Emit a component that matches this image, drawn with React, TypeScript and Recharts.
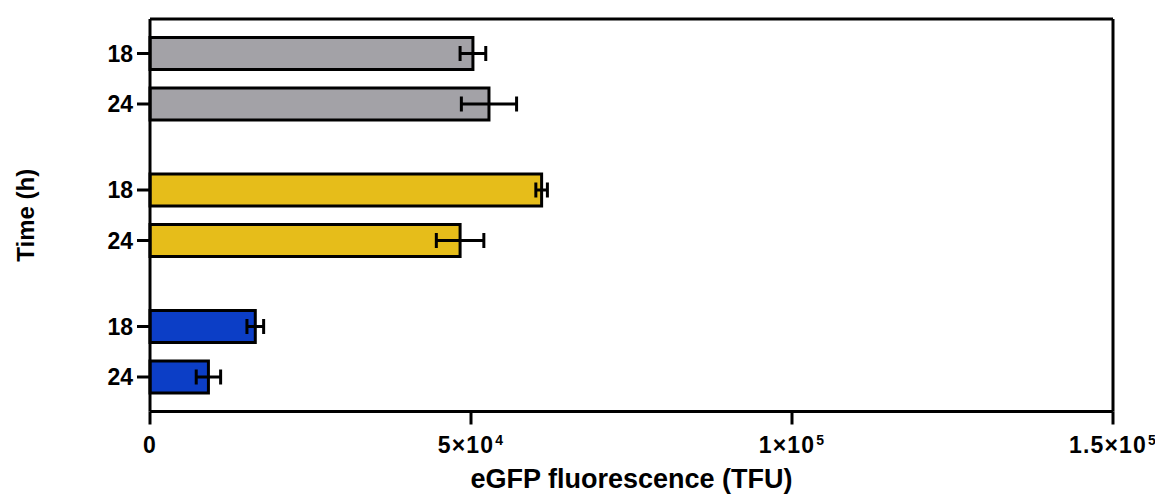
import React from 'react';
import { BarChart, Bar, XAxis, YAxis, ErrorBar, Cell, Label } from 'recharts';

const groups = ['G1', 'G2', 'G3'];
const timeLabels = ['18', '24'];
const mean18h = [50300, 61000, 16400];
const mean24h = [52800, 48300, 9100];
const sd18h = [2000, 900, 1300];
const sd24h = [4300, 3700, 1900];
const groupColors = ['#a3a2a7', '#e6bd1a', '#0c3ec6'];
const xTicks = [0, 50000, 100000, 150000];
const xTickMantissa = ['0', '5×10', '1×10', '1.5×10'];
const xTickExponent = ['', '4', '5', '5'];

const data = groups.map((g, i) => ({
  group: g,
  t18: mean18h[i],
  t24: mean24h[i],
  e18: sd18h[i],
  e24: sd24h[i],
}));

const FONT = '"Liberation Sans", Arial, sans-serif';
const BAR_SIZE = 32;
const BAR_GAP = 18.5;

const YTick = (props: any) => {
  const { x, y } = props;
  const half = (BAR_SIZE + BAR_GAP) / 2;
  return (
    <g>
      {timeLabels.map((t, k) => {
        const ty = y + (k === 0 ? -half : half);
        return (
          <g key={t}>
            <line x1={x - 13} x2={x} y1={ty} y2={ty} stroke="#000" strokeWidth={3} />
            <text
              x={x - 17}
              y={ty}
              dy="0.355em"
              textAnchor="end"
              fontFamily={FONT}
              fontWeight="bold"
              fontSize={23}
              fill="#000"
            >
              {t}
            </text>
          </g>
        );
      })}
    </g>
  );
};

const XTick = (props: any) => {
  const { x, y, payload } = props;
  const idx = xTicks.indexOf(payload.value);
  return (
    <text
      x={x}
      y={y}
      dy="0.71em"
      textAnchor="middle"
      fontFamily={FONT}
      fontWeight="bold"
      fontSize={23}
      letterSpacing={1.2}
      fill="#000"
    >
      <tspan>{xTickMantissa[idx]}</tspan>
      {xTickExponent[idx] ? (
        <tspan fontSize={14} dx={1} dy={-8}>
          {xTickExponent[idx]}
        </tspan>
      ) : null}
    </text>
  );
};

const XTitle = (props: any) => {
  const { viewBox } = props;
  const cx = viewBox.x + viewBox.width / 2;
  return (
    <text
      x={cx}
      y={viewBox.y + 76.5}
      textAnchor="middle"
      fontFamily={FONT}
      fontWeight="bold"
      fontSize={27}
      fill="#000"
    >
      eGFP fluorescence (TFU)
    </text>
  );
};

const YTitle = (props: any) => {
  const { viewBox } = props;
  const cy = viewBox.y + viewBox.height / 2;
  const cx = 17;
  return (
    <text
      x={cx}
      y={cy}
      dy="0.355em"
      transform={`rotate(-90, ${cx}, ${cy})`}
      textAnchor="middle"
      fontFamily={FONT}
      fontWeight="bold"
      fontSize={24}
      fill="#000"
    >
      Time (h)
    </text>
  );
};

export default function App() {
  return (
    <div style={{ width: 1155, height: 490 }}>
      <BarChart
        width={1155}
        height={490}
        data={data}
        layout="vertical"
        margin={{ top: 10, right: 49, bottom: 0, left: 0 }}
        barGap={BAR_GAP}
      >
        <XAxis
          type="number"
          domain={[0, 150000]}
          ticks={xTicks}
          interval={0}
          height={86.5}
          tickSize={13}
          tickMargin={12}
          axisLine={{ stroke: '#000', strokeWidth: 3 }}
          tickLine={{ stroke: '#000', strokeWidth: 3 }}
          tick={<XTick />}
        >
          <Label content={<XTitle />} />
        </XAxis>
        <XAxis
          xAxisId="top"
          orientation="top"
          type="number"
          domain={[0, 150000]}
          height={1}
          tick={false}
          tickLine={false}
          axisLine={{ stroke: '#000', strokeWidth: 3 }}
        />
        <YAxis
          type="category"
          dataKey="group"
          width={142}
          tickSize={0}
          tickMargin={0}
          tickLine={false}
          padding={{ top: -8.5, bottom: -8.5 }}
          axisLine={{ stroke: '#000', strokeWidth: 3 }}
          tick={<YTick />}
          interval={0}
        >
          <Label content={<YTitle />} />
        </YAxis>
        <YAxis
          yAxisId="right"
          orientation="right"
          type="category"
          dataKey="group"
          width={1}
          tick={false}
          tickLine={false}
          axisLine={{ stroke: '#000', strokeWidth: 3 }}
        />
        <Bar dataKey="t18" barSize={BAR_SIZE} stroke="#000" strokeWidth={3} isAnimationActive={false}>
          {data.map((d, i) => (
            <Cell key={d.group} fill={groupColors[i]} />
          ))}
          <ErrorBar dataKey="e18" direction="x" width={7.5} stroke="#000" strokeWidth={3} />
        </Bar>
        <Bar dataKey="t24" barSize={BAR_SIZE} stroke="#000" strokeWidth={3} isAnimationActive={false}>
          {data.map((d, i) => (
            <Cell key={d.group} fill={groupColors[i]} />
          ))}
          <ErrorBar dataKey="e24" direction="x" width={7.5} stroke="#000" strokeWidth={3} />
        </Bar>
      </BarChart>
    </div>
  );
}
